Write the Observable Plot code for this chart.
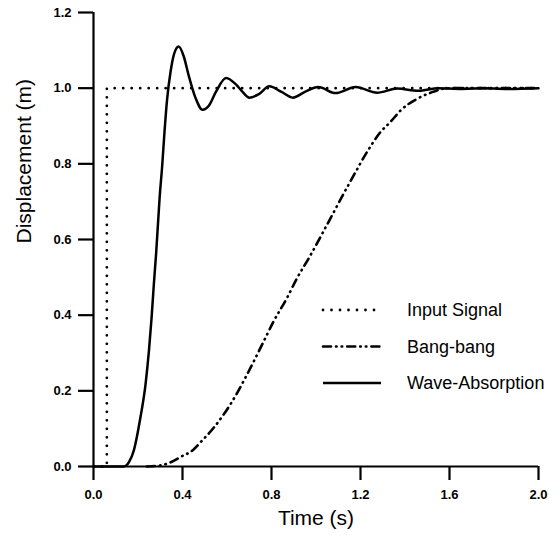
<!DOCTYPE html>
<html><head><meta charset="utf-8">
<script src="https://cdn.jsdelivr.net/npm/d3@7"></script>
<script src="https://cdn.jsdelivr.net/npm/@observablehq/plot@0.6"></script>
<style>
body{margin:0;background:#fff;}
#wrap{position:relative;width:549px;height:535px;overflow:hidden;}
#wrap svg{display:block;}
</style></head><body><div id="wrap"></div>
<script>
// Input signal (step)
const inputT = [0, 0.06, 0.06, 2.0];
const inputV = [0, 0, 1, 1];
// Bang-bang response
const bangT = [0.24, 0.30, 0.35, 0.391, 0.45, 0.481, 0.541, 0.616, 0.691, 0.751, 0.81, 0.87, 0.915, 0.97, 1.065, 1.125, 1.17, 1.23, 1.29, 1.335, 1.38, 1.455, 1.515, 1.56, 1.60, 2.0];
const bangV = [0, 0.003, 0.012, 0.025, 0.045, 0.064, 0.103, 0.165, 0.244, 0.314, 0.384, 0.446, 0.498, 0.553, 0.656, 0.722, 0.770, 0.832, 0.884, 0.911, 0.941, 0.972, 0.988, 0.997, 1.0, 1.0];
// Wave-absorption response
const waveT = [0, 0.136, 0.16, 0.181, 0.211, 0.234, 0.249, 0.261, 0.271, 0.282, 0.297, 0.309, 0.319, 0.331, 0.346, 0.362, 0.383, 0.405, 0.428, 0.458, 0.49, 0.52, 0.55, 0.596, 0.64, 0.67, 0.70, 0.745, 0.79, 0.845, 0.896, 0.95, 1.01, 1.088, 1.178, 1.275, 1.365, 1.46, 1.55, 1.65, 1.75, 1.85, 2.0];
const waveV = [0, 0, 0.012, 0.042, 0.13, 0.218, 0.305, 0.393, 0.48, 0.568, 0.709, 0.797, 0.884, 0.972, 1.042, 1.09, 1.11, 1.085, 1.033, 0.975, 0.943, 0.955, 0.99, 1.027, 1.01, 0.99, 0.975, 0.985, 1.005, 0.99, 0.975, 0.99, 1.003, 0.987, 1.003, 0.988, 0.999, 0.993, 1.0, 0.998, 1.0, 0.998, 1.0];
// Ticks
const xTicks = [0, 0.4, 0.8, 1.2, 1.6, 2.0];
const yTicks = [0, 0.2, 0.4, 0.6, 0.8, 1.0, 1.2];
// Legend
const legendLabels = ["Input Signal", "Bang-bang", "Wave-Absorption"];

const toRows = (T, V) => T.map((t, i) => ({t, v: V[i]}));
const inputRows = toRows(inputT, inputV);
const bangRows = toRows(bangT, bangV);
const waveRows = toRows(waveT, waveV);

const FONT = '"Liberation Sans",Arial,sans-serif';
const dotted = {strokeDasharray: "0,8.5", strokeLinecap: "round", strokeWidth: 2.8};
const dashdot = {strokeDasharray: "8,5,0.6,5,0.6,5", strokeLinecap: "round", strokeWidth: 2.6};
const solid = {strokeWidth: 2.5};

const chart = Plot.plot({
  width: 549, height: 535,
  marginLeft: 93, marginRight: 11, marginTop: 12, marginBottom: 69,
  style: {fontFamily: FONT, fontSize: "13px", color: "#000", background: "#fff"},
  x: {domain: [0, 2.0]},
  y: {domain: [0, 1.2]},
  marks: [
    Plot.axisX({ticks: xTicks, tickSize: 14, tickPadding: 9, tickFormat: d3.format(".1f"), label: null, strokeWidth: 2.2, fontWeight: "bold"}),
    Plot.axisY({ticks: yTicks, tickSize: 15, tickPadding: 7, tickFormat: d3.format(".1f"), label: null, strokeWidth: 2.2, fontWeight: "bold"}),
    Plot.ruleX([0], {strokeWidth: 2.2, y1: 0, y2: 1.2}),
    Plot.ruleY([0], {strokeWidth: 2.2}),
    Plot.line(inputRows, {x: "t", y: "v", stroke: "#000", ...dotted}),
    Plot.line(bangRows, {x: "t", y: "v", stroke: "#000", curve: "monotone-x", ...dashdot}),
    Plot.line(waveRows, {x: "t", y: "v", stroke: "#000", curve: "monotone-x", ...solid}),
    Plot.text(["Time (s)"], {frameAnchor: "bottom", dy: 58, fontSize: 21, fill: "#000"}),
    Plot.text(["Displacement (m)"], {frameAnchor: "left", dx: -69, dy: 4, rotate: -90, fontSize: 21, fill: "#000"})
  ]
});
document.getElementById("wrap").appendChild(chart);

// Legend overlay
const lg = d3.select("#wrap").append("svg")
  .attr("width", 549).attr("height", 535)
  .style("position", "absolute").style("left", "0px").style("top", "0px")
  .style("pointer-events", "none");
const styles = [dotted, dashdot, solid];
legendLabels.forEach((lab, i) => {
  const y = 310 + i * 36.5;
  const s = styles[i];
  lg.append("line").attr("x1", 323).attr("x2", 381).attr("y1", y).attr("y2", y)
    .attr("stroke", "#000").attr("stroke-width", s.strokeWidth)
    .attr("stroke-dasharray", s.strokeDasharray || null)
    .attr("stroke-linecap", s.strokeLinecap || "butt");
  lg.append("text").attr("x", 407).attr("y", y).attr("dy", "0.35em")
    .attr("font-family", FONT).attr("font-size", 18).attr("fill", "#000").text(lab);
});
</script>
</body></html>
